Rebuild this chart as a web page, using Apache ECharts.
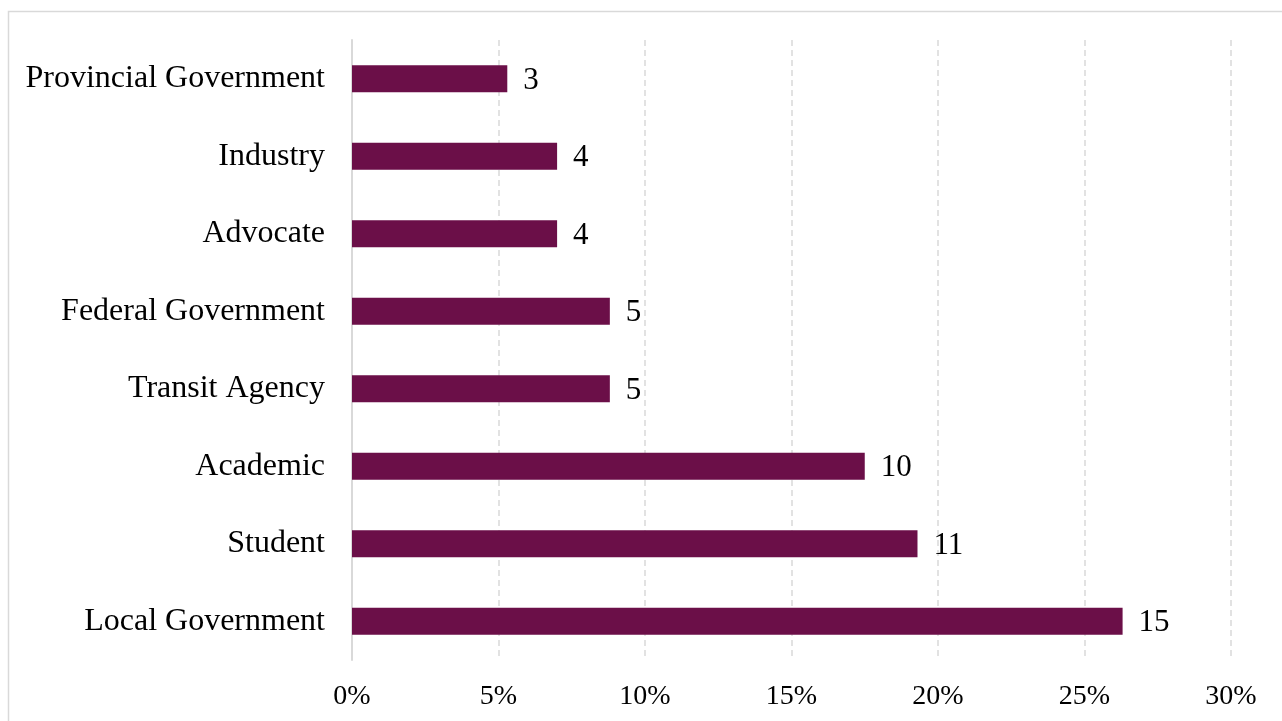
<!DOCTYPE html>
<html><head><meta charset="utf-8">
<script src="https://cdn.jsdelivr.net/npm/echarts@6/dist/echarts.min.js"></script>
<style>html,body{margin:0;padding:0;background:#fff}#c{width:1282px;height:721px}</style>
</head><body><div id="c"></div>
<script>
const categories = ["Local Government","Student","Academic","Transit Agency","Federal Government","Advocate","Industry","Provincial Government"];
const percents = [26.3, 19.3, 17.5, 8.8, 8.8, 7.0, 7.0, 5.3];
const counts = [15, 11, 10, 5, 5, 4, 4, 3];
const tickMax = 30;
const tickStep = 5;

const chart = echarts.init(document.getElementById('c'), null, {renderer:'canvas'});
const font = '"Liberation Serif", "Times New Roman", serif';
chart.setOption({
  animation:false,
  graphic:[{type:'rect', shape:{x:8.5,y:11.5,width:1400,height:800}, style:{fill:'none',stroke:'#d9d9d9',lineWidth:1.5}, silent:true, z:-1}],
  grid:{left:352,right:51,top:40,bottom:61,containLabel:false},
  xAxis:{type:'value',min:0,max:tickMax,interval:tickStep,
    axisLine:{show:false},axisTick:{show:false},
    axisLabel:{formatter:v=>v+'%',color:'#000',fontFamily:font,fontSize:28,margin:23},
    splitLine:{show:true,lineStyle:{color:'#d9d9d9',type:[6,4],width:1.5}}},
  yAxis:{type:'category',data:categories,
    axisLine:{show:true,lineStyle:{color:'#d9d9d9',width:2}},axisTick:{show:false},
    axisLabel:{color:'#000',fontFamily:font,fontSize:32,margin:27,padding:[4,0,0,0]}},
  series:[{type:'bar',data:percents,barWidth:27,itemStyle:{color:'#6B0F48'},
    label:{show:true,position:'right',distance:16,offset:[0,2],color:'#000',fontFamily:font,fontSize:31,
      formatter:p=>counts[p.dataIndex]}}]
});
</script></body></html>
